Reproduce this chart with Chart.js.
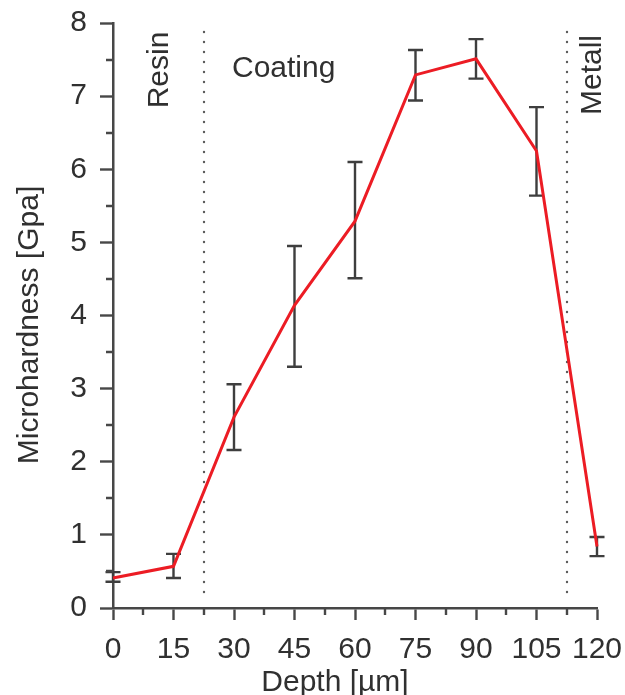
<!DOCTYPE html>
<html lang="en">
<head>
<meta charset="utf-8" />
<title>Microhardness profile</title>
<script src="https://cdn.jsdelivr.net/npm/chart.js@4"></script>
<style>
  html, body { margin: 0; padding: 0; background: #fff; }
  #wrap { width: 625px; height: 695px; }
</style>
</head>
<body>
<div id="wrap"><canvas id="myChart" width="625" height="695"></canvas></div>
<script>
// measured points: depth in µm, hardness in GPa, error bar ends
const depth    = [0, 15, 30, 45, 60, 75, 90, 105, 120];
const hardness = [0.41, 0.57, 2.61, 4.14, 5.29, 7.29, 7.51, 6.25, 0.84];
const errLow   = [0.36, 0.41, 2.16, 3.30, 4.51, 6.94, 7.24, 5.64, 0.71];
const errHigh  = [0.49, 0.74, 3.06, 4.95, 6.10, 7.63, 7.78, 6.85, 0.97];

const xTickLabels = [0, 15, 30, 45, 60, 75, 90, 105, 120];
const yTickLabels = [0, 1, 2, 3, 4, 5, 6, 7, 8];

// borders between the zones (µm) and their names
const zoneBounds = [22.5, 112.5];
const zoneNames  = ['Resin', 'Coating', 'Metall'];

const FONT = "'Liberation Sans', Arial, sans-serif";
const TXT = '#303030';
const AX = '#474747';

const points = depth.map((d, i) => ({ x: d, y: hardness[i] }));

const extras = {
	id: 'extras',
	beforeDatasetsDraw(chart) {
		const ctx = chart.ctx, xs = chart.scales.x, ys = chart.scales.y, a = chart.chartArea;
		// dotted zone borders
		ctx.save();
		ctx.strokeStyle = '#5c5c5c';
		ctx.lineWidth = 2.4;
		ctx.lineCap = 'round';
		ctx.setLineDash([0, 10]);
		zoneBounds.forEach(b => {
			const px = Math.round(xs.getPixelForValue(b));
			ctx.beginPath();
			ctx.moveTo(px, a.top + 9);
			ctx.lineTo(px, a.bottom - 10);
			ctx.stroke();
		});
		ctx.restore();
		// error bars
		ctx.save();
		ctx.strokeStyle = '#3e3e3e';
		ctx.lineWidth = 2.4;
		depth.forEach((d, i) => {
			const px = xs.getPixelForValue(d);
			const lo = ys.getPixelForValue(errLow[i]);
			const hi = ys.getPixelForValue(errHigh[i]);
			ctx.beginPath();
			ctx.moveTo(px, lo); ctx.lineTo(px, hi);
			ctx.moveTo(px - 7.5, lo); ctx.lineTo(px + 7.5, lo);
			ctx.moveTo(px - 7.5, hi); ctx.lineTo(px + 7.5, hi);
			ctx.stroke();
		});
		ctx.restore();
	},
	afterDraw(chart) {
		const ctx = chart.ctx, xs = chart.scales.x, ys = chart.scales.y, a = chart.chartArea;
		// minor ticks
		ctx.save();
		ctx.strokeStyle = AX;
		ctx.lineWidth = 2.4;
		ctx.beginPath();
		ys.ticks.forEach(t => {
			if (yTickLabels.includes(t.value)) return;
			const py = Math.round(ys.getPixelForValue(t.value));
			ctx.moveTo(a.left - 7, py); ctx.lineTo(a.left, py);
		});
		xs.ticks.forEach(t => {
			if (xTickLabels.includes(t.value)) return;
			const px = Math.round(xs.getPixelForValue(t.value));
			ctx.moveTo(px, a.bottom); ctx.lineTo(px, a.bottom + 7);
		});
		ctx.stroke();
		ctx.restore();

		// axis titles and zone names
		ctx.save();
		ctx.fillStyle = TXT;
		ctx.font = '30px ' + FONT;
		ctx.textBaseline = 'alphabetic';
		ctx.textAlign = 'center';
		ctx.fillText('Depth [µm]', 335, 691);

		ctx.save();
		ctx.translate(38, 325);
		ctx.rotate(-Math.PI / 2);
		ctx.fillText('Microhardness [Gpa]', 0, 0);
		ctx.restore();

		ctx.save();
		ctx.translate(168, 70);
		ctx.rotate(-Math.PI / 2);
		ctx.fillText(zoneNames[0], 0, 0);
		ctx.restore();

		ctx.textAlign = 'left';
		ctx.fillText(zoneNames[1], 232, 77);

		ctx.save();
		ctx.translate(601, 75);
		ctx.rotate(-Math.PI / 2);
		ctx.textAlign = 'center';
		ctx.fillText(zoneNames[2], 0, 0);
		ctx.restore();
		ctx.restore();
	}
};

new Chart(document.getElementById('myChart'), {
	type: 'line',
	data: {
		datasets: [{
			data: points,
			borderColor: '#ec1c24',
			borderWidth: 3,
			pointRadius: 0,
			tension: 0,
			fill: false,
			clip: false
		}]
	},
	options: {
		responsive: false,
		animation: false,
		layout: { padding: { left: 0, right: 28, top: 23, bottom: 0 } },
		plugins: { legend: { display: false }, tooltip: { enabled: false } },
		scales: {
			x: {
				type: 'linear',
				min: 0, max: 120,
				afterFit(s) { s.height = 87; s.paddingLeft = 0; s.paddingRight = 0; },
				border: { display: true, color: AX, width: 2.5 },
				grid: {
					drawOnChartArea: false, drawTicks: true, tickLength: 12, tickWidth: 2.4,
					tickColor: c => xTickLabels.includes(c.tick.value) ? AX : 'rgba(0,0,0,0)'
				},
				ticks: {
					stepSize: 7.5, autoSkip: false, maxRotation: 0, padding: 12,
					color: TXT, font: { family: FONT, size: 30 },
					callback: v => xTickLabels.includes(v) ? String(v) : ''
				}
			},
			y: {
				min: 0, max: 8,
				afterFit(s) { s.width = 113; s.paddingTop = 0; s.paddingBottom = 0; },
				border: { display: true, color: AX, width: 2.5 },
				grid: {
					drawOnChartArea: false, drawTicks: true, tickLength: 13, tickWidth: 2.4,
					tickColor: c => yTickLabels.includes(c.tick.value) ? AX : 'rgba(0,0,0,0)'
				},
				ticks: {
					stepSize: 0.5, autoSkip: false, padding: 13,
					color: TXT, font: { family: FONT, size: 30 },
					callback: v => yTickLabels.includes(v) ? String(v) : ''
				}
			}
		}
	},
	plugins: [extras]
});
</script>
</body>
</html>
